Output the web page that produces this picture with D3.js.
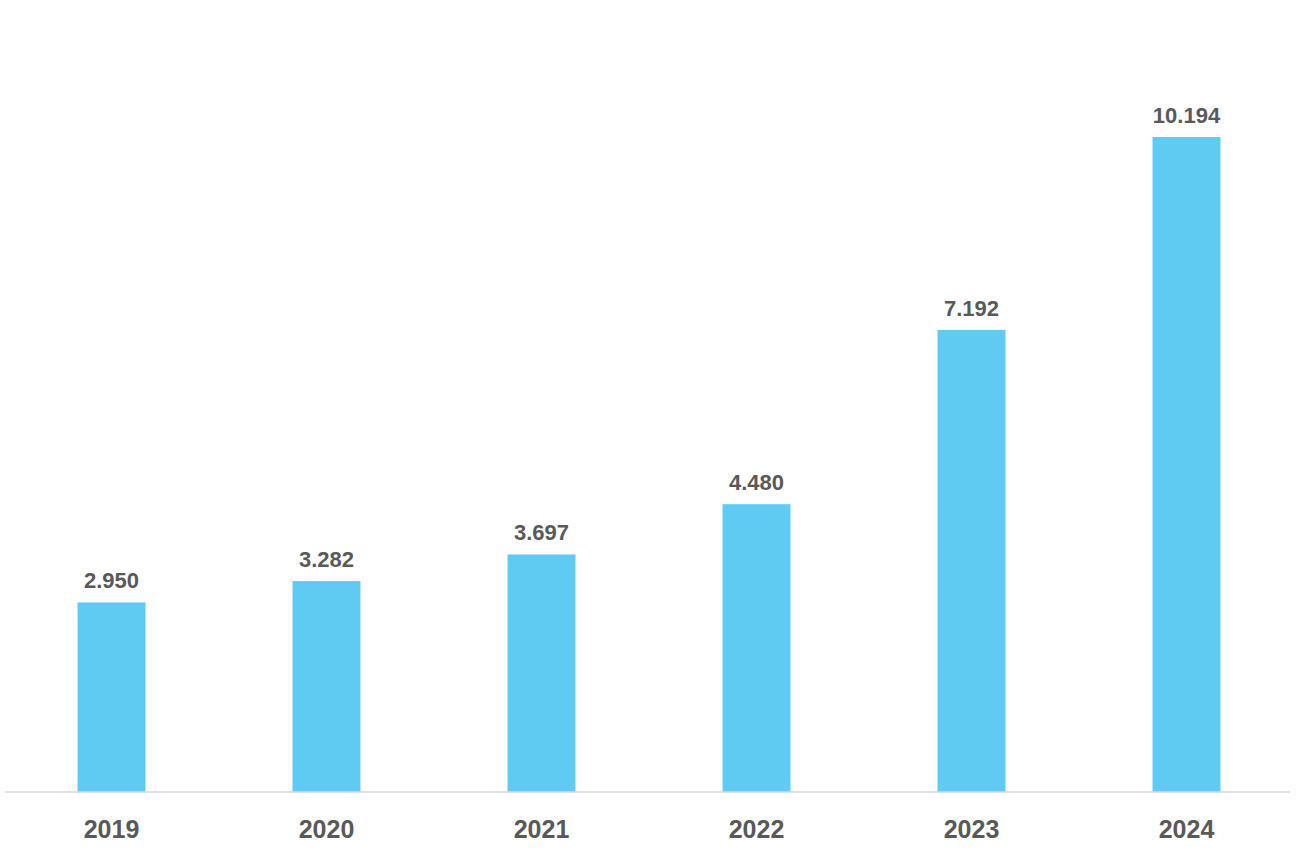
<!DOCTYPE html>
<html>
<head>
<meta charset="utf-8">
<script src="https://cdn.jsdelivr.net/npm/d3@7"></script>
<style>
  body { margin: 0; background: #fff; }
  text { font-family: "Liberation Sans", Arial, sans-serif; font-weight: bold; fill: #595959; }
</style>
</head>
<body>
<svg id="chart" width="1296" height="864"></svg>
<script>
const years = ['2019', '2020', '2021', '2022', '2023', '2024']
const values = [2.950, 3.282, 3.697, 4.480, 7.192, 10.194]
const labels = ['2.950', '3.282', '3.697', '4.480', '7.192', '10.194']

const svg = d3.select('#chart')
const baseY = 792

const x = d3.scaleBand().domain(years).range([4, 1294])
  .paddingInner(0.684).paddingOuter(0.342)
const y = d3.scaleLinear().domain([0, 12.327]).range([baseY, 0])

// bars
svg.selectAll('rect.bar')
  .data(values)
  .enter()
  .append('rect')
    .attr('class', 'bar')
    .attr('x', (d, i) => x(years[i]))
    .attr('y', d => y(d))
    .attr('width', x.bandwidth())
    .attr('height', d => baseY - y(d))
    .attr('fill', '#5fcbf3')

// value labels
svg.selectAll('text.val')
  .data(values)
  .enter()
  .append('text')
    .attr('class', 'val')
    .attr('x', (d, i) => x(years[i]) + x.bandwidth() / 2)
    .attr('y', d => y(d) - 14)
    .attr('text-anchor', 'middle')
    .style('font-size', '22px')
    .text((d, i) => labels[i])

// x axis
const axis = svg.append('g').attr('transform', `translate(0,${baseY})`)
  .call(d3.axisBottom(x).tickSize(0).tickPadding(28))
axis.select('.domain').attr('stroke', '#d9d9d9').attr('stroke-width', 1.5)
  .attr('d', 'M5,0H1290')
axis.selectAll('text').style('font-size', '25px').attr('fill', '#595959')
</script>
</body>
</html>
